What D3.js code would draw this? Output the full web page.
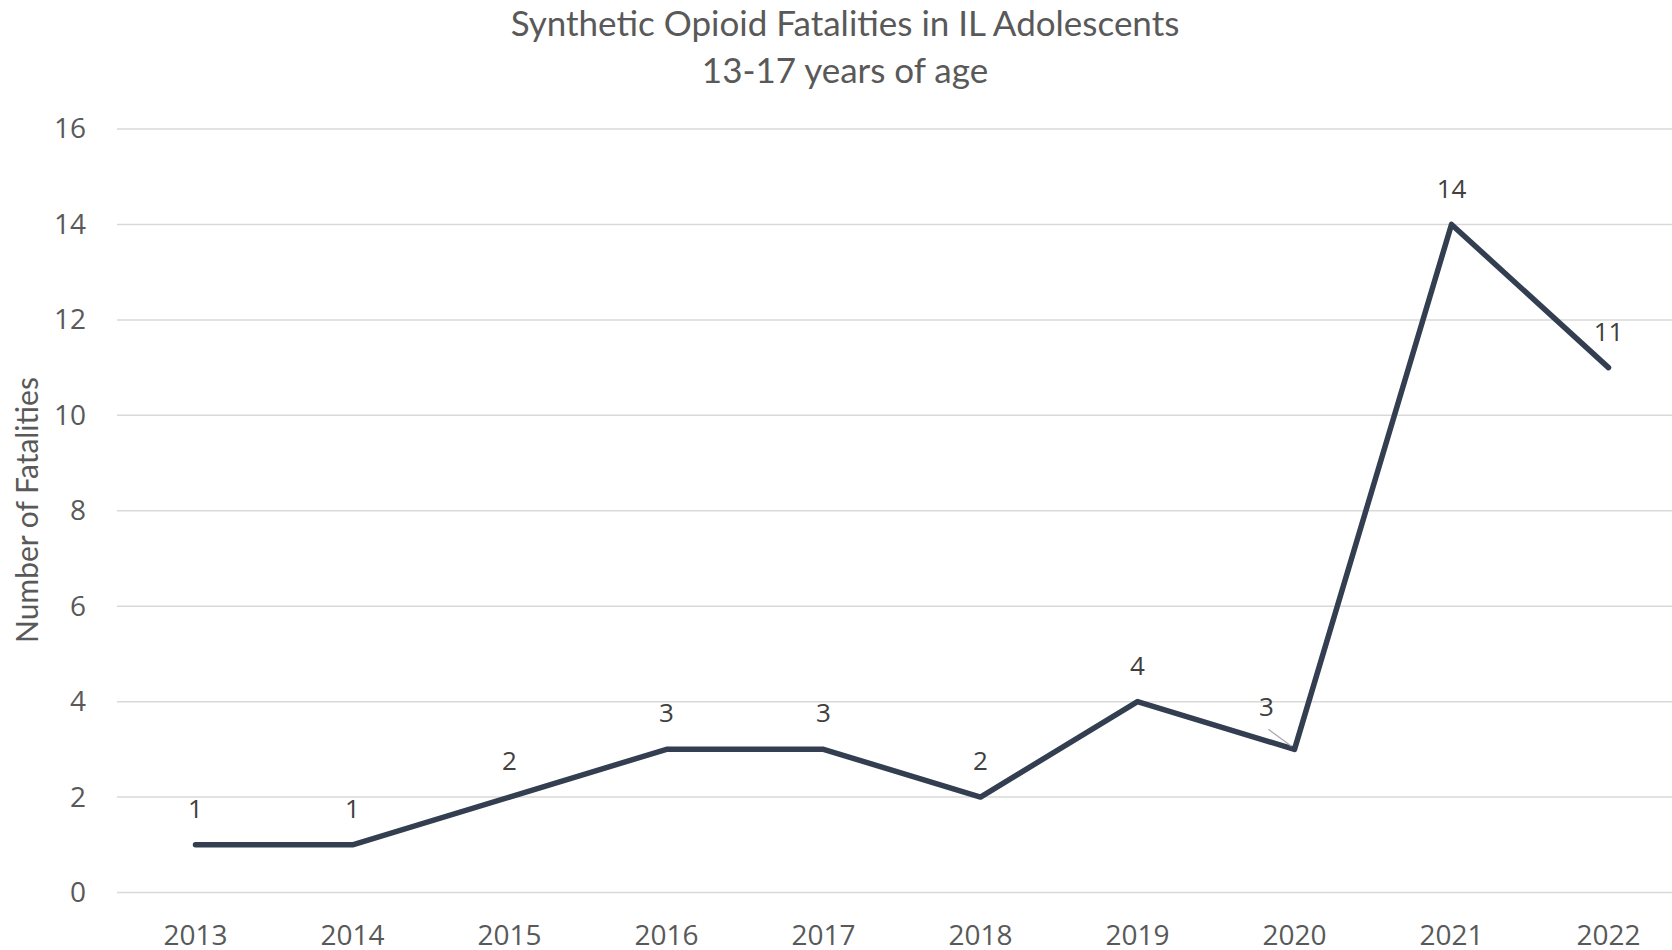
<!DOCTYPE html>
<html>
<head>
<meta charset="utf-8">
<script src="https://cdn.jsdelivr.net/npm/d3@7"></script>
<style>
  body { margin: 0; background: #fff; }
  svg { display: block; }
</style>
</head>
<body>
<script>
var years = ["2013", "2014", "2015", "2016", "2017", "2018", "2019", "2020", "2021", "2022"];
var fatalities = [1, 1, 2, 3, 3, 2, 4, 3, 14, 11];
var yTicks = [0, 2, 4, 6, 8, 10, 12, 14, 16];

var width = 1672,
	height = 950;

var svg = d3.select("body").append("svg")
	.attr("width", width)
	.attr("height", height);

// plot area runs off the right edge, like the original
var x = d3.scaleBand()
	.domain(years)
	.range([117, 117 + 10 * 157]);

var y = d3.scaleLinear()
	.domain([0, 16])
	.range([892.5, 129]);

// title
svg.append("text")
	.attr("x", 845)
	.attr("y", 36)
	.attr("text-anchor", "middle")
	.style("font-family", "Lato")
	.style("font-size", "35px")
	.style("fill", "#595959")
	.text("Synthetic Opioid Fatalities in IL Adolescents");

svg.append("text")
	.attr("x", 845)
	.attr("y", 83)
	.attr("text-anchor", "middle")
	.style("font-family", "Lato")
	.style("font-size", "35px")
	.style("fill", "#595959")
	.text("13-17 years of age");

// gridlines
svg.append("g")
	.selectAll("line")
	.data(yTicks)
	.enter().append("line")
	.attr("x1", 117)
	.attr("x2", width)
	.attr("y1", function(d) { return y(d); })
	.attr("y2", function(d) { return y(d); })
	.attr("stroke", "#d9d9d9")
	.attr("stroke-width", 1.5);

// y axis labels
var yAxis = svg.append("g")
	.attr("transform", "translate(100,0)")
	.call(d3.axisLeft(y).tickValues(yTicks).tickSize(0).tickPadding(14));
yAxis.select(".domain").remove();
yAxis.selectAll("text")
	.style("font-family", "Open Sans")
	.style("font-size", "28px")
	.style("fill", "#595959");

// x axis labels
var xAxis = svg.append("g")
	.attr("transform", "translate(0," + y(0) + ")")
	.call(d3.axisBottom(x).tickSize(0).tickPadding(33));
xAxis.select(".domain").remove();
xAxis.selectAll("text")
	.style("font-family", "Open Sans")
	.style("font-size", "28px")
	.style("fill", "#595959");

svg.append("text")
	.attr("transform", "translate(38,510) rotate(-90)")
	.attr("text-anchor", "middle")
	.style("font-family", "Lato")
	.style("font-size", "30px")
	.style("fill", "#595959")
	.text("Number of Fatalities");

var points = years.map(function(yr, i) {
	return { year: yr, value: fatalities[i] };
});

var line = d3.line()
	.x(function(d) { return x(d.year) + x.bandwidth() / 2; })
	.y(function(d) { return y(d.value); });

svg.append("path")
	.datum(points)
	.attr("d", line)
	.attr("fill", "none")
	.attr("stroke", "#333f50")
	.attr("stroke-width", 5.5)
	.attr("stroke-linejoin", "round")
	.attr("stroke-linecap", "round");

// data labels - the 2020 one got nudged left with a leader line
function labelDx(d) { return d.year == "2020" ? -28 : 0; }
function labelDy(d) { return d.year == "2020" ? -42 : -36; }

var lead = points.filter(function(d) { return d.year == "2020"; });
svg.append("g")
	.selectAll("line")
	.data(lead)
	.enter().append("line")
	.attr("x1", function(d) { return x(d.year) + x.bandwidth() / 2 - 26; })
	.attr("y1", function(d) { return y(d.value) - 20; })
	.attr("x2", function(d) { return x(d.year) + x.bandwidth() / 2 - 3; })
	.attr("y2", function(d) { return y(d.value) - 3; })
	.attr("stroke", "#a6a6a6")
	.attr("stroke-width", 1.2);

svg.append("g")
	.selectAll("text")
	.data(points)
	.enter().append("text")
	.attr("x", function(d) { return x(d.year) + x.bandwidth() / 2 + labelDx(d); })
	.attr("y", function(d) { return y(d.value) + labelDy(d); })
	.attr("dy", "0.35em")
	.attr("text-anchor", "middle")
	.style("font-family", "Open Sans")
	.style("font-size", "26px")
	.style("fill", "#404040")
	.text(function(d) { return d.value; });
</script>
</body>
</html>
